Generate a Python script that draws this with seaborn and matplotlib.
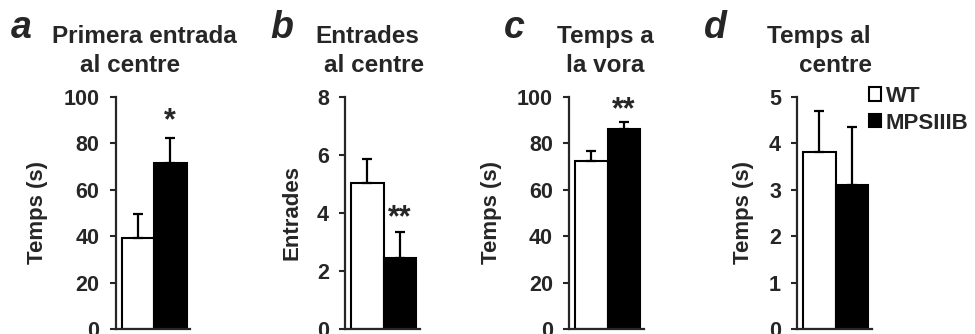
import matplotlib
matplotlib.use("Agg")
import matplotlib.pyplot as plt
from matplotlib.patches import Patch
import seaborn as sns
import pandas as pd
import numpy as np

# ---------------- data ----------------
groups = ["WT", "MPSIIIB"]
panel_letters = ["a", "b", "c", "d"]
titles_line1 = ["Primera entrada", "Entrades", "Temps a", "Temps al"]
titles_line2 = ["al centre", "al centre", "la vora", "centre"]
ylabels = ["Temps (s)", "Entrades", "Temps (s)", "Temps (s)"]
wt_mean = [39.3, 5.02, 72.5, 3.81]
wt_sem = [10.1, 0.84, 4.3, 0.89]
mps_mean = [71.6, 2.45, 86.3, 3.11]
mps_sem = [10.6, 0.88, 2.9, 1.23]
y_max = [100, 8, 100, 5]
y_step = [20, 2, 20, 1]
stars = ["*", "**", "**", ""]

# ---------------- layout (pixels) ----------------
W, H = 975, 334
sns.set_style("ticks")
plt.rcParams["font.family"] = ["Liberation Sans", "DejaVu Sans"]
plt.rcParams["font.weight"] = "bold"

fig = plt.figure(figsize=(W / 100, H / 100), dpi=100)

spine_x = [115.5, 345, 569, 797]
ax_w = 74.5
y_top, y_bot = 96.7, 329.0
title_cx1 = [144, 367, 605, 819]
title_cx2 = [130, 374, 605, 836]
letter_x = [11, 270, 504, 704]
ylabel_cx = [38, 292, 492, 744]
star_y = [86.0, 3.55, 90.6, None]

def fx(px):
    return px / W

def fy(py):
    return 1 - py / H

for i in range(4):
    ax = fig.add_axes([fx(spine_x[i]), fy(y_bot), ax_w / W, (y_bot - y_top) / H])
    df = pd.DataFrame({"group": groups, "value": [wt_mean[i], mps_mean[i]]})
    sns.barplot(data=df, x="group", y="value", hue="group",
                palette={"WT": "white", "MPSIIIB": "black"},
                edgecolor="black", linewidth=1.5, width=1.0,
                errorbar=None, legend=False, ax=ax, zorder=2)
    means = [wt_mean[i], mps_mean[i]]
    errs = [wt_sem[i], mps_sem[i]]
    ax.errorbar([0, 1], means, yerr=[[0, 0], errs], fmt="none",
                ecolor="black", elinewidth=1.6, capsize=3.6, capthick=1.6, zorder=3)
    ax.set_xlim(-0.5 - 6 / 32.5, 1.5 + 3.5 / 32.5)
    ax.set_ylim(0, y_max[i])
    ticks = np.arange(0, y_max[i] + 0.001, y_step[i])
    ax.set_yticks(ticks)
    ax.set_yticklabels([f"{int(v)}" for v in ticks], fontsize=15.5, fontweight="bold")
    ax.set_xticks([])
    ax.set_xlabel("")
    ax.set_ylabel(ylabels[i], fontsize=16, fontweight="bold", va="center")
    ax.yaxis.set_label_coords((ylabel_cx[i] - spine_x[i]) / ax_w, 0.5)
    ax.tick_params(axis="y", length=4, width=1.5, pad=7.5, direction="out")
    for s in ["top", "right"]:
        ax.spines[s].set_visible(False)
    for s in ["left", "bottom"]:
        ax.spines[s].set_linewidth(1.6)
    if stars[i]:
        ax.text(1, star_y[i], stars[i], ha="center", va="baseline",
                fontsize=22, fontweight="bold")
    fig.text(fx(title_cx1[i]), fy(43), titles_line1[i], ha="center", va="baseline",
             fontsize=17.5, fontweight="bold")
    fig.text(fx(title_cx2[i]), fy(72), titles_line2[i], ha="center", va="baseline",
             fontsize=17.5, fontweight="bold")
    fig.text(fx(letter_x[i]), fy(38), panel_letters[i], ha="left", va="baseline",
             fontsize=27, fontweight="bold", fontstyle="italic")
    if i == 3:
        handles = [Patch(facecolor="white", edgecolor="black", linewidth=1.5),
                   Patch(facecolor="black", edgecolor="black", linewidth=1.5)]
        fig.legend(handles, groups, loc="upper left",
                   bbox_to_anchor=(fx(869), fy(86)), frameon=False,
                   prop={"size": 16, "weight": "bold"},
                   handlelength=0.55, handleheight=0.55, handletextpad=0.2,
                   labelspacing=0.25, borderpad=0, borderaxespad=0)

fig.savefig("out.png", dpi=100)
